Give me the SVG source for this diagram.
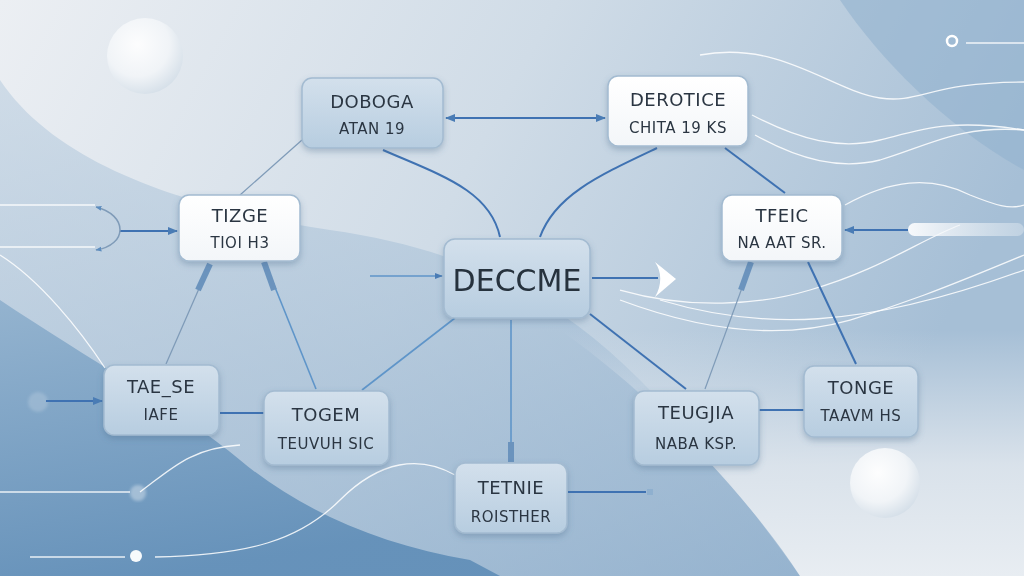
<svg xmlns="http://www.w3.org/2000/svg" width="1024" height="576" viewBox="0 0 1024 576">
<defs>
<linearGradient id="bg" x1="0" y1="0" x2="1" y2="0.3">
<stop offset="0" stop-color="#eceff3"/>
<stop offset="0.5" stop-color="#d0dce7"/>
<stop offset="1" stop-color="#a6bfd6"/>
</linearGradient>
<linearGradient id="blueBand" x1="0" y1="0" x2="0.3" y2="1">
<stop offset="0" stop-color="#8fb0cd"/>
<stop offset="1" stop-color="#5f8db7"/>
</linearGradient>
<linearGradient id="midBand" x1="0" y1="0" x2="0" y2="1">
<stop offset="0" stop-color="#bccfe0"/>
<stop offset="1" stop-color="#8aabca"/>
</linearGradient>
<linearGradient id="lightBR" x1="0" y1="0" x2="0" y2="1">
<stop offset="0" stop-color="#dfe6ed" stop-opacity="0"/>
<stop offset="0.55" stop-color="#dfe6ed" stop-opacity="0.9"/>
<stop offset="1" stop-color="#e8edf2" stop-opacity="1"/>
</linearGradient>
<linearGradient id="nodeBlue" x1="0" y1="0" x2="0" y2="1">
<stop offset="0" stop-color="#d3e0ec"/>
<stop offset="1" stop-color="#b7cde0"/>
</linearGradient>
<linearGradient id="nodeWhite" x1="0" y1="0" x2="0" y2="1">
<stop offset="0" stop-color="#ffffff"/>
<stop offset="1" stop-color="#f3f6f9"/>
</linearGradient>
<radialGradient id="sphere" cx="0.4" cy="0.35" r="0.7">
<stop offset="0" stop-color="#ffffff"/>
<stop offset="0.6" stop-color="#f2f5f8"/>
<stop offset="1" stop-color="#d2dde7"/>
</radialGradient>
<linearGradient id="tube" x1="0" y1="0" x2="1" y2="0">
<stop offset="0" stop-color="#ffffff"/>
<stop offset="1" stop-color="#dfe8f0" stop-opacity="0.5"/>
</linearGradient>
<filter id="shadow" x="-20%" y="-20%" width="140%" height="150%">
<feDropShadow dx="0" dy="3" stdDeviation="3" flood-color="#4a6a8a" flood-opacity="0.35"/>
</filter>
<filter id="blur2"><feGaussianBlur stdDeviation="1.5"/></filter>
<marker id="arr" viewBox="0 0 10 10" refX="9" refY="5" markerWidth="5" markerHeight="5" orient="auto-start-reverse">
<path d="M0,1 L10,5 L0,9 z" fill="#4a7cb5"/>
</marker>
<marker id="arrS" viewBox="0 0 10 10" refX="9" refY="5" markerWidth="4" markerHeight="4" orient="auto-start-reverse">
<path d="M0,1 L10,5 L0,9 z" fill="#5d8dbf"/>
</marker>
<style>
.node rect{stroke:#a3bbd1;stroke-width:1.5}
.nb{fill:url(#nodeBlue)}
.nw{fill:url(#nodeWhite)}
.t1{font-family:"DejaVu Sans","Liberation Sans",sans-serif;font-size:18px;fill:#2b3642;text-anchor:middle;letter-spacing:0.5px}
.t2{font-family:"DejaVu Sans","Liberation Sans",sans-serif;font-size:15px;fill:#2b3642;text-anchor:middle;letter-spacing:0.5px}
.tc{font-family:"DejaVu Sans","Liberation Sans",sans-serif;font-size:30px;fill:#26313d;text-anchor:middle}
.c{fill:none;stroke:#3f72b2;stroke-width:2}
.cl{fill:none;stroke:#5f95c9;stroke-width:1.6}
.ct{fill:none;stroke:#7f9bb8;stroke-width:1.2}
.w{fill:none;stroke:#ffffff;stroke-width:1.3;stroke-opacity:0.85}
.thick{stroke:#6b93bd;stroke-width:6;stroke-linecap:butt}
</style>
</defs>

<!-- background -->
<rect width="1024" height="576" fill="url(#bg)"/>
<path d="M840,0 C880,60 950,130 1024,170 L1024,0 Z" fill="#93b2ce" opacity="0.6"/>
<path d="M0,80 C60,170 200,210 330,230 C470,250 560,300 640,380 C700,440 760,520 800,576 L0,576 Z" fill="url(#midBand)" opacity="0.6"/>
<path d="M560,330 C660,400 750,500 800,576 L1024,576 L1024,330 Z" fill="url(#lightBR)"/>
<path d="M0,300 C90,360 180,410 240,460 C300,510 380,545 470,560 L500,576 L0,576 Z" fill="url(#blueBand)" opacity="0.9"/>

<!-- decorative spheres and lines -->
<circle cx="145" cy="56" r="38" fill="url(#sphere)" opacity="0.9"/>
<circle cx="885" cy="483" r="35" fill="url(#sphere)" opacity="0.95"/>
<circle cx="952" cy="41" r="5" fill="none" stroke="#ffffff" stroke-width="2.5"/>
<line x1="966" y1="43" x2="1024" y2="43" class="w"/>
<path class="w" d="M700,55 C780,40 830,90 880,98 C920,104 930,82 1024,82"/>
<path class="w" d="M752,115 C800,140 840,150 880,140 C920,130 950,118 1024,130"/>
<path class="w" d="M755,135 C800,160 840,170 880,160 C930,145 960,125 1024,130"/>
<path class="w" d="M845,205 C890,180 930,175 970,195 C995,205 1010,210 1024,205"/>
<path class="w" d="M620,290 C690,310 760,305 810,290 C880,270 920,240 960,225"/>
<path class="w" d="M620,300 C700,330 780,340 850,320 C900,305 940,290 1024,255"/>
<path class="w" d="M660,300 C760,330 860,330 1024,270"/>
<line class="w" x1="0" y1="205" x2="95" y2="205"/>
<line class="w" x1="0" y1="247" x2="95" y2="247"/>
<path class="w" d="M0,255 C40,280 80,330 105,368"/>
<line class="w" x1="0" y1="492" x2="130" y2="492"/>
<path class="w" d="M140,492 C170,470 190,448 240,445"/>
<circle cx="138" cy="493" r="8" fill="#ffffff" opacity="0.35" filter="url(#blur2)"/>
<line class="w" x1="30" y1="557" x2="125" y2="557"/>
<circle cx="136" cy="556" r="6" fill="#ffffff" opacity="0.95"/>
<path class="w" d="M155,557 C250,555 300,540 340,500 C380,460 420,455 455,475"/>
<rect x="908" y="223" width="116" height="13" rx="6.5" fill="url(#tube)" opacity="0.9"/>
<circle cx="38" cy="402" r="10" fill="#a8c1d8" opacity="0.6" filter="url(#blur2)"/>

<!-- connectors -->
<g id="connectors">
<line class="c" x1="446" y1="118" x2="605" y2="118" marker-start="url(#arr)" marker-end="url(#arr)"/>
<path class="c" d="M383,150 C440,175 490,190 500,237"/>
<path class="c" d="M657,148 C600,175 555,195 540,237"/>
<line class="c" x1="725" y1="148" x2="785" y2="193"/>
<line class="ct" x1="302" y1="140" x2="240" y2="195"/>
<line class="ct" x1="166" y1="364" x2="208" y2="268"/>
<line class="thick" x1="210" y1="264" x2="198" y2="290"/>
<line class="cl" x1="316" y1="389" x2="266" y2="265"/>
<line class="thick" x1="264" y1="262" x2="274" y2="290"/>
<line class="c" x1="220" y1="413" x2="264" y2="413"/>
<line class="cl" x1="455" y1="318" x2="362" y2="390"/>
<line class="cl" x1="511" y1="320" x2="511" y2="462"/>
<line class="thick" x1="511" y1="442" x2="511" y2="462"/>
<line class="c" x1="590" y1="314" x2="686" y2="389"/>
<line class="ct" x1="705" y1="389" x2="750" y2="266"/>
<line class="thick" x1="751" y1="262" x2="741" y2="290"/>
<line class="c" x1="808" y1="262" x2="856" y2="364"/>
<line class="c" x1="759" y1="410" x2="804" y2="410"/>
<line class="c" x1="568" y1="492" x2="646" y2="492"/>
<rect x="647" y="489" width="6" height="6" fill="#8fb0cf"/>
<line class="cl" x1="370" y1="276" x2="442" y2="276" marker-end="url(#arr)"/>
<line class="c" x1="592" y1="278" x2="658" y2="278"/>
<path d="M655,262 L676,279 L655,297 C662,285 662,272 655,262 Z" fill="#ffffff"/>
<line class="c" x1="120" y1="231" x2="177" y2="231" marker-end="url(#arr)"/>
<path d="M96,207 C128,215 128,245 96,250" fill="none" stroke="#7f9bb8" stroke-width="1.5" marker-start="url(#arrS)" marker-end="url(#arrS)"/>
<line class="c" x1="46" y1="401" x2="102" y2="401" marker-end="url(#arr)"/>
<line class="c" x1="908" y1="230" x2="845" y2="230" marker-end="url(#arr)"/>
</g>

<!-- nodes -->
<g id="n1" class="node" filter="url(#shadow)">
<rect class="nb" x="302" y="78" width="141" height="70" rx="10"/>
<text class="t1" x="372" y="108">DOBOGA</text>
<text class="t2" x="372" y="134">ATAN   19</text>
</g>
<g id="n2" class="node" filter="url(#shadow)">
<rect class="nw" x="608" y="76" width="140" height="70" rx="10"/>
<text class="t1" x="678" y="106">DEROTICE</text>
<text class="t2" x="678" y="133">CHITA 19 KS</text>
</g>
<g id="n3" class="node" filter="url(#shadow)">
<rect class="nw" x="179" y="195" width="121" height="66" rx="10"/>
<text class="t1" x="240" y="222">TIZGE</text>
<text class="t2" x="240" y="248">TIOI H3</text>
</g>
<g id="n4" class="node" filter="url(#shadow)">
<rect class="nb" x="444" y="239" width="146" height="79" rx="11"/>
<text class="tc" x="517" y="291">DECCME</text>
</g>
<g id="n5" class="node" filter="url(#shadow)">
<rect class="nw" x="722" y="195" width="120" height="66" rx="10"/>
<text class="t1" x="782" y="222">TFEIC</text>
<text class="t2" x="782" y="248">NA AAT SR.</text>
</g>
<g id="n6" class="node" filter="url(#shadow)">
<rect class="nb" x="104" y="365" width="115" height="70" rx="10"/>
<text class="t1" x="161" y="393">TAE_SE</text>
<text class="t2" x="161" y="420">IAFE</text>
</g>
<g id="n7" class="node" filter="url(#shadow)">
<rect class="nb" x="264" y="391" width="125" height="74" rx="10"/>
<text class="t1" x="326" y="421">TOGEM</text>
<text class="t2" x="326" y="449">TEUVUH  SIC</text>
</g>
<g id="n8" class="node" filter="url(#shadow)">
<rect class="nb" x="455" y="463" width="112" height="70" rx="10"/>
<text class="t1" x="511" y="494">TETNIE</text>
<text class="t2" x="511" y="522">ROISTHER</text>
</g>
<g id="n9" class="node" filter="url(#shadow)">
<rect class="nb" x="634" y="391" width="125" height="74" rx="10"/>
<text class="t1" x="696" y="419">TEUGJIA</text>
<text class="t2" x="696" y="449">NABA KSP.</text>
</g>
<g id="n10" class="node" filter="url(#shadow)">
<rect class="nb" x="804" y="366" width="114" height="71" rx="10"/>
<text class="t1" x="861" y="394">TONGE</text>
<text class="t2" x="861" y="421">TAAVM HS</text>
</g>
</svg>
